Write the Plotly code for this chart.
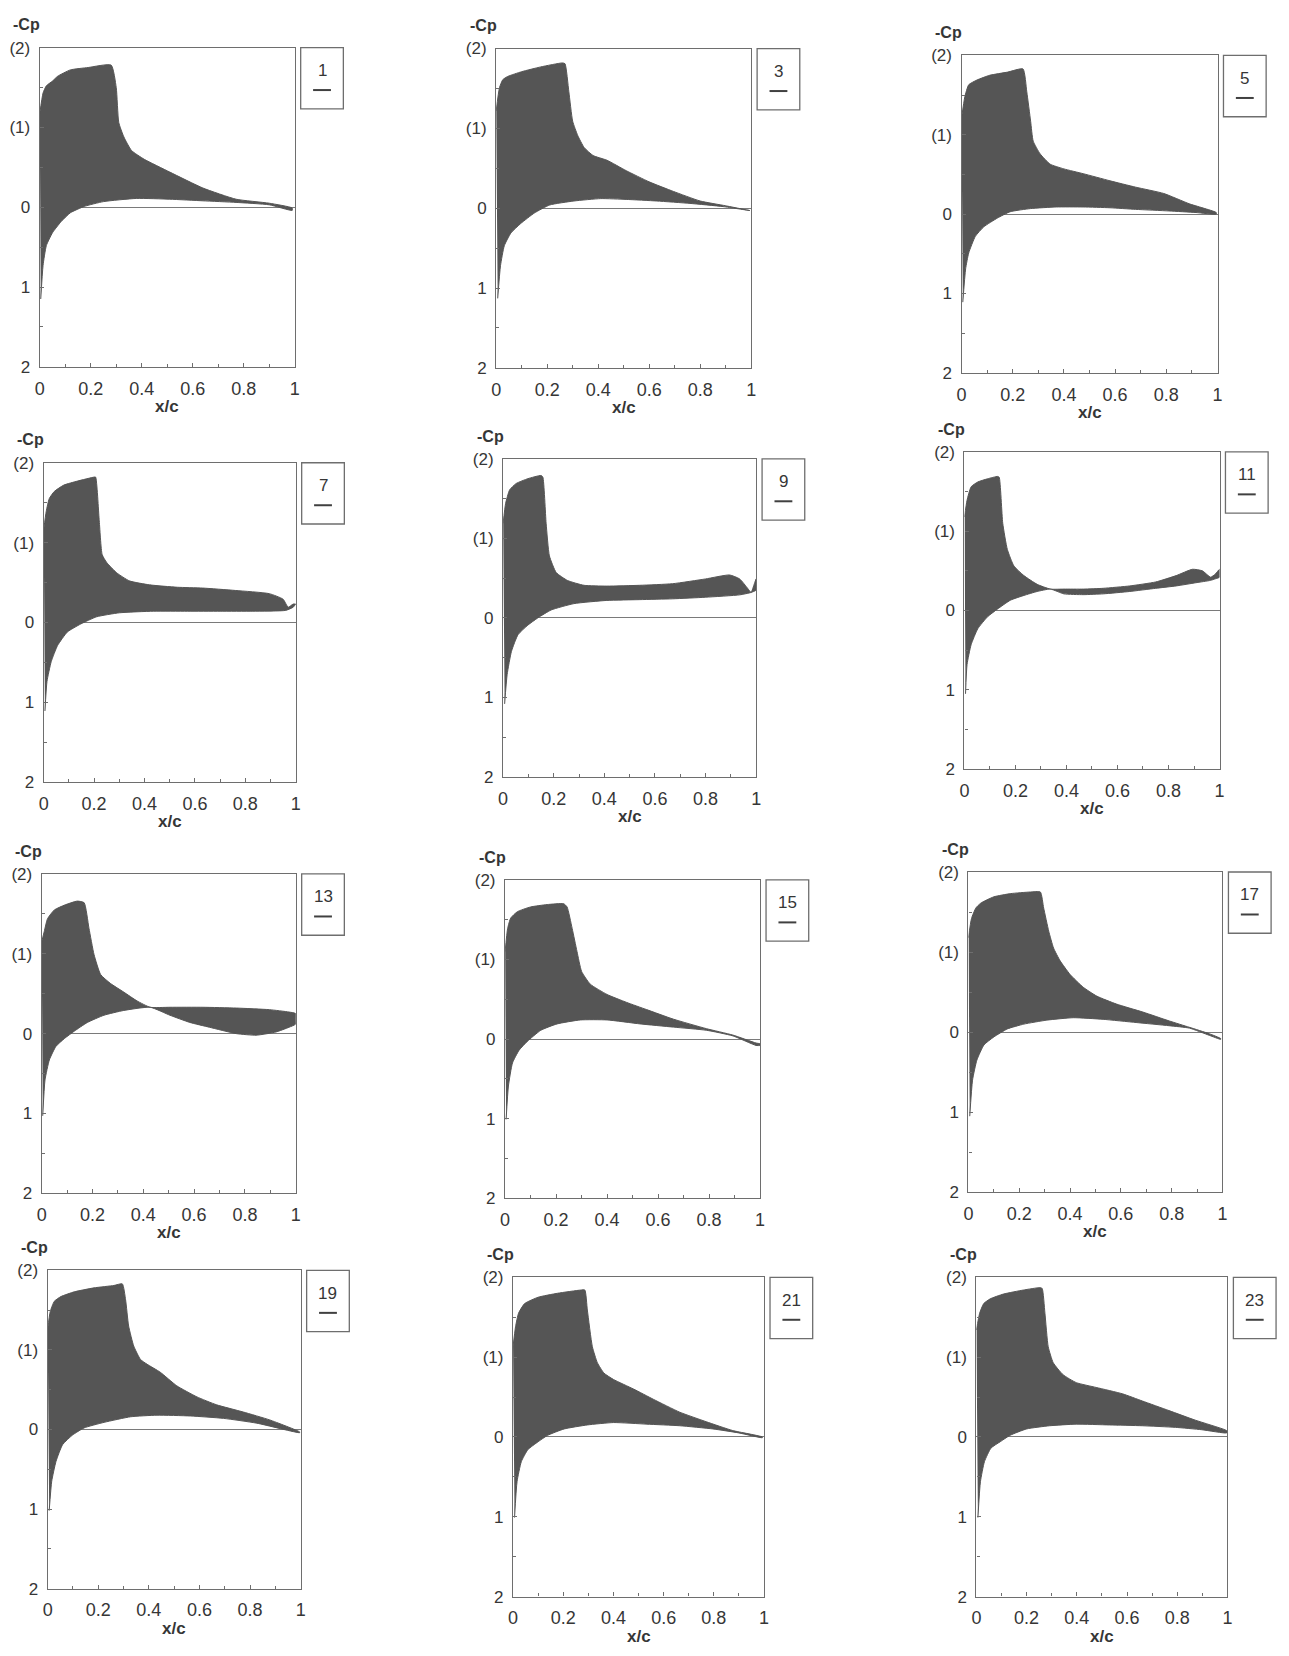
import plotly.graph_objects as go

W, H = 1289, 1656

# ---- data: pressure coefficient (Cp) along the chord, upper and lower envelopes ----
panel_labels = ["1", "3", "5", "7", "9", "11", "13", "15", "17", "19", "21", "23"]

p1_up_x = [0.0, 0.013, 0.026, 0.05, 0.07, 0.12, 0.19, 0.28, 0.30, 0.31, 0.33, 0.36, 0.41, 0.51, 0.64, 0.77, 0.90, 0.99]
p1_up_cp = [-1.17, -1.43, -1.52, -1.58, -1.64, -1.72, -1.75, -1.78, -1.50, -1.06, -0.88, -0.71, -0.60, -0.44, -0.24, -0.10, -0.05, 0.01]
p1_lo_x = [0.004, 0.013, 0.026, 0.05, 0.084, 0.12, 0.175, 0.25, 0.38, 0.51, 0.64, 0.77, 0.90, 0.99]
p1_lo_cp = [1.15, 0.73, 0.48, 0.32, 0.18, 0.07, -0.01, -0.07, -0.11, -0.10, -0.08, -0.06, -0.03, 0.04]

p3_up_x = [0.0, 0.013, 0.026, 0.045, 0.10, 0.175, 0.26, 0.27, 0.285, 0.30, 0.32, 0.345, 0.38, 0.435, 0.51, 0.60, 0.695, 0.80, 0.90, 0.995]
p3_up_cp = [-1.22, -1.51, -1.61, -1.65, -1.71, -1.77, -1.82, -1.81, -1.46, -1.09, -0.91, -0.76, -0.66, -0.60, -0.47, -0.33, -0.21, -0.09, -0.03, 0.03]
p3_lo_x = [0.006, 0.017, 0.032, 0.058, 0.097, 0.15, 0.21, 0.305, 0.41, 0.51, 0.63, 0.76, 0.89, 0.995]
p3_lo_cp = [1.13, 0.72, 0.47, 0.31, 0.19, 0.06, -0.04, -0.09, -0.12, -0.11, -0.09, -0.06, -0.02, 0.03]

p5_up_x = [0.0, 0.013, 0.028, 0.06, 0.11, 0.18, 0.24, 0.255, 0.27, 0.28, 0.307, 0.346, 0.40, 0.475, 0.58, 0.68, 0.79, 0.89, 0.995]
p5_up_cp = [-1.21, -1.48, -1.63, -1.69, -1.75, -1.79, -1.83, -1.54, -1.17, -0.92, -0.76, -0.63, -0.57, -0.51, -0.42, -0.34, -0.26, -0.13, -0.02]
p5_lo_x = [0.005, 0.016, 0.028, 0.054, 0.087, 0.14, 0.19, 0.27, 0.37, 0.475, 0.58, 0.68, 0.81, 0.916, 0.995]
p5_lo_cp = [1.11, 0.69, 0.49, 0.28, 0.16, 0.05, -0.03, -0.07, -0.09, -0.09, -0.08, -0.06, -0.04, -0.02, 0.0]

p7_up_x = [0.0, 0.01, 0.022, 0.042, 0.08, 0.134, 0.20, 0.206, 0.22, 0.232, 0.25, 0.29, 0.34, 0.42, 0.53, 0.63, 0.76, 0.895, 0.95, 0.97, 0.99, 1.0]
p7_up_cp = [-1.16, -1.39, -1.55, -1.64, -1.72, -1.77, -1.82, -1.82, -1.29, -0.85, -0.75, -0.62, -0.52, -0.47, -0.44, -0.43, -0.40, -0.36, -0.29, -0.19, -0.23, -0.23]
p7_lo_x = [0.005, 0.013, 0.03, 0.055, 0.094, 0.147, 0.21, 0.30, 0.435, 0.57, 0.70, 0.83, 0.96, 0.99, 1.0]
p7_lo_cp = [1.11, 0.74, 0.49, 0.29, 0.12, 0.02, -0.07, -0.12, -0.14, -0.14, -0.14, -0.14, -0.15, -0.19, -0.23]

p9_up_x = [0.0, 0.01, 0.026, 0.052, 0.098, 0.15, 0.157, 0.17, 0.183, 0.21, 0.255, 0.32, 0.41, 0.54, 0.67, 0.80, 0.895, 0.935, 0.967, 0.98, 0.993, 1.0]
p9_up_cp = [-1.19, -1.44, -1.61, -1.69, -1.75, -1.79, -1.77, -1.19, -0.78, -0.57, -0.47, -0.41, -0.40, -0.41, -0.43, -0.49, -0.54, -0.49, -0.37, -0.32, -0.43, -0.49]
p9_lo_x = [0.006, 0.016, 0.033, 0.059, 0.098, 0.137, 0.19, 0.28, 0.41, 0.54, 0.67, 0.80, 0.935, 0.98, 1.0]
p9_lo_cp = [1.08, 0.71, 0.42, 0.21, 0.09, 0.0, -0.10, -0.18, -0.22, -0.23, -0.24, -0.26, -0.29, -0.32, -0.35]

p11_up_x = [0.0, 0.01, 0.026, 0.052, 0.09, 0.13, 0.136, 0.15, 0.168, 0.194, 0.233, 0.285, 0.337, 0.39, 0.466, 0.544, 0.648, 0.75, 0.83, 0.894, 0.933, 0.965, 0.984, 1.0]
p11_up_cp = [-1.18, -1.39, -1.56, -1.62, -1.66, -1.69, -1.68, -1.10, -0.77, -0.56, -0.44, -0.33, -0.27, -0.27, -0.27, -0.28, -0.31, -0.36, -0.44, -0.52, -0.50, -0.42, -0.46, -0.52]
p11_lo_x = [0.004, 0.01, 0.026, 0.052, 0.09, 0.13, 0.18, 0.233, 0.285, 0.337, 0.39, 0.466, 0.544, 0.648, 0.75, 0.83, 0.907, 0.965, 0.984, 1.0]
p11_lo_cp = [1.05, 0.68, 0.43, 0.23, 0.08, -0.02, -0.13, -0.19, -0.24, -0.27, -0.21, -0.20, -0.21, -0.24, -0.28, -0.31, -0.35, -0.38, -0.40, -0.42]

p13_up_x = [0.0, 0.01, 0.023, 0.05, 0.09, 0.14, 0.167, 0.186, 0.206, 0.232, 0.27, 0.323, 0.375, 0.427, 0.505, 0.635, 0.766, 0.896, 0.974, 1.0]
p13_up_cp = [-1.15, -1.28, -1.44, -1.55, -1.61, -1.66, -1.64, -1.32, -0.99, -0.74, -0.63, -0.52, -0.41, -0.33, -0.33, -0.33, -0.32, -0.30, -0.27, -0.25]
p13_lo_x = [0.004, 0.013, 0.03, 0.056, 0.09, 0.128, 0.18, 0.245, 0.323, 0.427, 0.505, 0.583, 0.66, 0.766, 0.844, 0.922, 0.974, 1.0]
p13_lo_cp = [1.03, 0.58, 0.33, 0.16, 0.06, -0.03, -0.14, -0.23, -0.29, -0.33, -0.23, -0.14, -0.08, 0.0, 0.02, -0.02, -0.08, -0.12]

p15_up_x = [0.0, 0.01, 0.022, 0.048, 0.10, 0.165, 0.23, 0.243, 0.263, 0.282, 0.30, 0.334, 0.40, 0.477, 0.555, 0.66, 0.79, 0.893, 0.984, 1.0]
p15_up_cp = [-1.10, -1.39, -1.52, -1.60, -1.66, -1.69, -1.70, -1.66, -1.39, -1.10, -0.85, -0.69, -0.56, -0.46, -0.37, -0.25, -0.13, -0.05, 0.05, 0.06]
p15_lo_x = [0.004, 0.013, 0.029, 0.055, 0.087, 0.14, 0.204, 0.295, 0.40, 0.53, 0.66, 0.79, 0.893, 0.984, 1.0]
p15_lo_cp = [1.01, 0.59, 0.30, 0.14, 0.03, -0.11, -0.19, -0.24, -0.24, -0.19, -0.15, -0.11, -0.04, 0.08, 0.08]

p17_up_x = [0.0, 0.012, 0.029, 0.048, 0.10, 0.166, 0.244, 0.283, 0.296, 0.316, 0.335, 0.361, 0.40, 0.452, 0.505, 0.583, 0.687, 0.79, 0.87, 0.948, 0.993]
p17_up_cp = [-1.18, -1.42, -1.55, -1.61, -1.69, -1.73, -1.75, -1.75, -1.55, -1.26, -1.05, -0.89, -0.72, -0.56, -0.45, -0.35, -0.25, -0.14, -0.06, 0.02, 0.08]
p17_lo_x = [0.005, 0.016, 0.033, 0.061, 0.10, 0.153, 0.218, 0.309, 0.413, 0.53, 0.66, 0.79, 0.87, 0.948, 0.993]
p17_lo_cp = [1.05, 0.60, 0.35, 0.16, 0.06, -0.04, -0.10, -0.15, -0.18, -0.16, -0.12, -0.08, -0.05, 0.04, 0.09]

p19_up_x = [0.0, 0.01, 0.026, 0.052, 0.105, 0.183, 0.262, 0.295, 0.308, 0.32, 0.34, 0.367, 0.393, 0.445, 0.51, 0.59, 0.668, 0.773, 0.878, 0.996]
p19_up_cp = [-1.26, -1.48, -1.61, -1.67, -1.73, -1.78, -1.81, -1.83, -1.63, -1.30, -1.05, -0.88, -0.82, -0.72, -0.55, -0.41, -0.31, -0.22, -0.12, 0.03]
p19_lo_x = [0.006, 0.016, 0.033, 0.059, 0.098, 0.144, 0.223, 0.328, 0.432, 0.564, 0.695, 0.826, 0.996]
p19_lo_cp = [1.02, 0.65, 0.40, 0.19, 0.07, -0.02, -0.09, -0.16, -0.18, -0.17, -0.14, -0.08, 0.04]

p21_up_x = [0.0, 0.01, 0.022, 0.046, 0.10, 0.178, 0.27, 0.286, 0.296, 0.316, 0.336, 0.362, 0.40, 0.48, 0.56, 0.664, 0.77, 0.875, 0.993]
p21_up_cp = [-1.13, -1.38, -1.55, -1.67, -1.75, -1.80, -1.84, -1.84, -1.59, -1.13, -0.93, -0.80, -0.72, -0.60, -0.47, -0.31, -0.19, -0.08, 0.0]
p21_lo_x = [0.006, 0.016, 0.033, 0.059, 0.10, 0.138, 0.204, 0.296, 0.40, 0.533, 0.664, 0.796, 0.90, 0.993]
p21_lo_cp = [1.01, 0.56, 0.31, 0.16, 0.06, -0.02, -0.10, -0.15, -0.18, -0.16, -0.14, -0.10, -0.05, 0.01]

p23_up_x = [0.0, 0.013, 0.029, 0.055, 0.108, 0.187, 0.253, 0.262, 0.273, 0.286, 0.306, 0.345, 0.398, 0.477, 0.582, 0.661, 0.767, 0.872, 0.99, 1.0]
p23_up_cp = [-1.34, -1.55, -1.67, -1.73, -1.79, -1.84, -1.87, -1.86, -1.55, -1.13, -0.93, -0.78, -0.68, -0.62, -0.54, -0.45, -0.33, -0.21, -0.09, -0.07]
p23_lo_x = [0.006, 0.016, 0.032, 0.058, 0.095, 0.134, 0.20, 0.292, 0.398, 0.53, 0.661, 0.793, 0.898, 0.997]
p23_lo_cp = [1.01, 0.56, 0.31, 0.14, 0.06, -0.02, -0.10, -0.14, -0.16, -0.15, -0.14, -0.12, -0.09, -0.05]

x_ticks = [0, 0.2, 0.4, 0.6, 0.8, 1]
x_tick_text = ["0", "0.2", "0.4", "0.6", "0.8", "1"]
y_ticks = [-2, -1, 0, 1, 2]
y_tick_text = ["(2)", "(1)", "0", "1", "2"]

series = [
    (p1_up_x, p1_up_cp, p1_lo_x, p1_lo_cp),
    (p3_up_x, p3_up_cp, p3_lo_x, p3_lo_cp),
    (p5_up_x, p5_up_cp, p5_lo_x, p5_lo_cp),
    (p7_up_x, p7_up_cp, p7_lo_x, p7_lo_cp),
    (p9_up_x, p9_up_cp, p9_lo_x, p9_lo_cp),
    (p11_up_x, p11_up_cp, p11_lo_x, p11_lo_cp),
    (p13_up_x, p13_up_cp, p13_lo_x, p13_lo_cp),
    (p15_up_x, p15_up_cp, p15_lo_x, p15_lo_cp),
    (p17_up_x, p17_up_cp, p17_lo_x, p17_lo_cp),
    (p19_up_x, p19_up_cp, p19_lo_x, p19_lo_cp),
    (p21_up_x, p21_up_cp, p21_lo_x, p21_lo_cp),
    (p23_up_x, p23_up_cp, p23_lo_x, p23_lo_cp),
]

# ---- layout: plot frames in page pixels (left, right, top, bottom) ----
frames = [
    (35, 292, 39, 362), (495, 752, 40, 363), (964, 1222, 47, 368),
    (39, 293, 459, 782), (502, 757, 455, 777), (967, 1224, 448, 769),
    (37, 293, 875, 1198), (504, 761, 881, 1203), (971, 1227, 873, 1197),
    (43, 298, 1276, 1598), (512, 765, 1283, 1606), (979, 1232, 1283, 1606),
]
show_xlabel = [True, True, True, True, True, True, True, False, True, True, True, True]

FILL = "#555555"
FRAME = "#6e6e6e"
TEXT = "#363636"
FONT = "Liberation Sans, Arial, sans-serif"


def px(x):
    return x / W


def py(y):
    return 1 - y / H


fig = go.Figure()
layout = {}
annotations = []
shapes = []

for i, ((ux, ucp, lx, lcp), (l, r, t, b), lab) in enumerate(zip(series, frames, panel_labels)):
    n = "" if i == 0 else str(i + 1)
    xa, ya = f"x{n}", f"y{n}"

    # band between the two surface envelopes
    fig.add_trace(go.Scatter(
        x=list(ux) + list(lx)[::-1],
        y=list(ucp) + list(lcp)[::-1],
        xaxis=xa, yaxis=ya,
        mode="lines", fill="toself", fillcolor=FILL,
        line=dict(color=FILL, width=1, shape="spline", smoothing=0.5),
        showlegend=False, hoverinfo="skip",
    ))

    layout[f"xaxis{n}"] = dict(
        domain=[px(l), px(r)], anchor=ya, range=[0, 1],
        tickvals=x_ticks, ticktext=x_tick_text,
        ticks="inside", ticklen=4, tickcolor=FRAME,
        minor=dict(ticks="inside", ticklen=3, dtick=0.1, tick0=0, tickcolor=FRAME),
        showline=True, linecolor=FRAME, linewidth=1.3, mirror=True,
        showgrid=False, zeroline=False,
        tickfont=dict(family=FONT, size=18, color=TEXT),
        ticklabelstandoff=5,
    )
    layout[f"yaxis{n}"] = dict(
        domain=[py(b), py(t)], anchor=xa, range=[2, -2],
        tickvals=y_ticks, ticktext=y_tick_text,
        ticks="inside", ticklen=4, tickcolor=FRAME,
        minor=dict(ticks="inside", ticklen=3, tickvals=[-1.5, -0.5, 0.5, 1.5], tickcolor=FRAME),
        showline=True, linecolor=FRAME, linewidth=1.3, mirror=True,
        showgrid=False,
        zeroline=True, zerolinecolor="#7a7a7a", zerolinewidth=1.2,
        tickfont=dict(family=FONT, size=17, color=TEXT),
        ticklabelstandoff=5,
    )

    # axis titles
    annotations.append(dict(
        x=px(l - 13), y=py(t - 23), xref="paper", yref="paper",
        text="<b>-Cp</b>", showarrow=False, xanchor="center", yanchor="middle",
        font=dict(family=FONT, size=16, color=TEXT),
    ))
    if show_xlabel[i]:
        annotations.append(dict(
            x=px((l + r) / 2), y=py(b + 40), xref="paper", yref="paper",
            text="<b>x/c</b>", showarrow=False, xanchor="center", yanchor="middle",
            font=dict(family=FONT, size=17, color=TEXT),
        ))

    # key box with the step number
    kl, kr, kt, kb = r + 6, r + 49, t, t + 62
    shapes.append(dict(type="rect", xref="paper", yref="paper",
                       x0=px(kl), x1=px(kr), y0=py(kb), y1=py(kt),
                       line=dict(color=FRAME, width=1.3), fillcolor="rgba(0,0,0,0)"))
    kc = (kl + kr) / 2
    annotations.append(dict(
        x=px(kc), y=py(kt + 23), xref="paper", yref="paper",
        text=lab, showarrow=False, xanchor="center", yanchor="middle",
        font=dict(family=FONT, size=17, color=TEXT),
    ))
    shapes.append(dict(type="line", xref="paper", yref="paper",
                       x0=px(kc - 9), x1=px(kc + 9), y0=py(kt + 43), y1=py(kt + 43),
                       line=dict(color="#404040", width=2)))

fig.update_layout(
    width=W, height=H,
    margin=dict(l=0, r=0, t=0, b=0),
    paper_bgcolor="white", plot_bgcolor="white",
    annotations=annotations, shapes=shapes,
    showlegend=False,
    **layout,
)

fig.write_html("out.html")
